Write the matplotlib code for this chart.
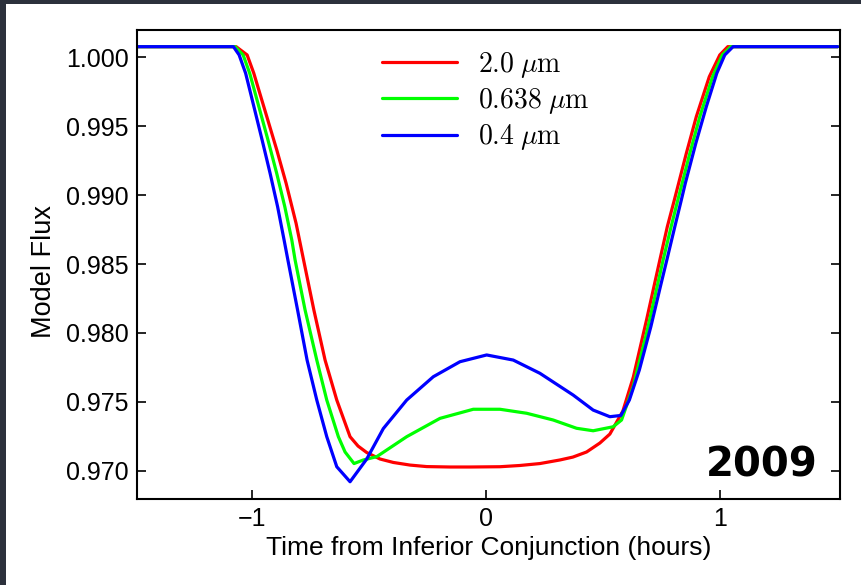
import matplotlib
matplotlib.use("Agg")
import matplotlib.pyplot as plt
from matplotlib.patches import Rectangle

plt.rcParams['mathtext.fontset'] = 'cm'

# ---- data ----
t_red = [-1.50, -1.0670, -1.0200, -0.9915, -0.9787, -0.9360, -0.8934, -0.8537, -0.8111, -0.7791,
         -0.7352, -0.6874, -0.6375, -0.5808, -0.5467, -0.5096, -0.4529, -0.3962, -0.3249, -0.2537,
         -0.1544, -0.0691, 0.0588, 0.1441, 0.2294, 0.3147, 0.3701, 0.4286, 0.4853, 0.5279,
         0.5834, 0.6281, 0.6844, 0.7412, 0.7731, 0.8030, 0.8542, 0.8968, 0.9522, 0.9970,
         1.0311, 1.50]
f_red = [1.00077, 1.00077, 1.00017, 0.99884, 0.99811, 0.99569, 0.99327, 0.99086, 0.98795, 0.98529,
         0.98166, 0.97803, 0.97513, 0.97247, 0.97179, 0.97132, 0.97085, 0.97060, 0.97041, 0.97030,
         0.97027, 0.97027, 0.97029, 0.97038, 0.97052, 0.97078, 0.97099, 0.97136, 0.97201, 0.97266,
         0.97433, 0.97680, 0.98094, 0.98529, 0.98771, 0.98964, 0.99303, 0.99569, 0.99859, 1.00017,
         1.00077, 1.00077]

t_green = [-1.50, -1.0712, -1.0371, -1.0090, -0.9699, -0.9311, -0.8938, -0.8593, -0.8294, -0.8153,
           -0.7727, -0.7228, -0.6802, -0.6307, -0.6021, -0.5638, -0.5241, -0.4670, -0.3390, -0.1970,
           -0.0550, 0.0588, 0.1727, 0.2861, 0.3859, 0.4567, 0.5420, 0.5778, 0.6273, 0.6844,
           0.7552, 0.7893, 0.8179, 0.8691, 0.9117, 0.9663, 1.0077, 1.0439, 1.50]
f_green = [1.00077, 1.00077, 1.00017, 0.99884, 0.99641, 0.99400, 0.99158, 0.98916, 0.98674, 0.98529,
           0.98166, 0.97803, 0.97513, 0.97247, 0.97136, 0.97052, 0.97078, 0.97102, 0.97247, 0.97380,
           0.97446, 0.97446, 0.97417, 0.97368, 0.97308, 0.97290, 0.97319, 0.97368, 0.97610, 0.97997,
           0.98529, 0.98771, 0.98964, 0.99303, 0.99569, 0.99859, 1.00017, 1.00077, 1.00077]

t_blue = [-1.50, -1.0785, -1.0542, -1.0264, -0.9910, -0.9561, -0.9220, -0.8900, -0.8623, -0.8461,
          -0.8047, -0.7642, -0.7228, -0.6802, -0.6375, -0.5808, -0.5096, -0.4388, -0.3390, -0.2256,
          -0.1117, 0.0021, 0.1156, 0.2294, 0.3714, 0.4567, 0.5279, 0.5748, 0.6111, 0.6537,
          0.7028, 0.7433, 0.7710, 0.8051, 0.8328, 0.8499, 0.8947, 0.9394, 0.9842, 1.0183,
          1.0537, 1.50]
f_blue = [1.00077, 1.00077, 1.00017, 0.99884, 0.99641, 0.99400, 0.99158, 0.98916, 0.98674, 0.98529,
          0.98166, 0.97803, 0.97513, 0.97247, 0.97029, 0.96920, 0.97085, 0.97306, 0.97513, 0.97682,
          0.97791, 0.97840, 0.97803, 0.97707, 0.97549, 0.97440, 0.97392, 0.97401, 0.97513, 0.97731,
          0.98045, 0.98335, 0.98529, 0.98771, 0.98964, 0.99086, 0.99376, 0.99641, 0.99884, 1.00017,
          1.00077, 1.00077]

labels = [r'$2.0\;\mu\mathrm{m}$', r'$0.638\;\mu\mathrm{m}$', r'$0.4\;\mu\mathrm{m}$']
colors = ['#ff0000', '#00ff00', '#0000ff']
yticks = [0.970, 0.975, 0.980, 0.985, 0.990, 0.995, 1.000]
xticks = [-1, 0, 1]
year_text = '2009'

# ---- figure ----
fig = plt.figure(figsize=(8.61, 5.85), dpi=100, facecolor='#2c313c')
fig.patches.append(Rectangle((6 / 861, 0), 1, 1 - 4 / 585, transform=fig.transFigure,
                             facecolor='white', edgecolor='none', zorder=-10))
ax = fig.add_axes([137 / 861, 1 - 498.7 / 585, (840 - 137) / 861, (498.7 - 30) / 585])

for t, f, c, lab in zip([t_red, t_green, t_blue], [f_red, f_green, f_blue], colors, labels):
    ax.plot(t, f, color=c, lw=2.3, label=lab, solid_joinstyle='round', solid_capstyle='round')

ax.set_xlim(-1.49, 1.51)
ax.set_ylim(0.96797, 1.00198)
ax.set_xticks(xticks)
ax.set_yticks(yticks)
ax.set_yticklabels([f'{v:.3f}' for v in yticks])

for s in ax.spines.values():
    s.set_linewidth(1.5)
ax.tick_params(axis='both', direction='in', length=6.5, width=1.2, labelsize=18,
               right=True, top=False, pad=6)
for lab in ax.get_xticklabels() + ax.get_yticklabels():
    lab.set_family('Liberation Sans')

ax.set_xlabel('Time from Inferior Conjunction (hours)', family='Liberation Sans', fontsize=19)
ax.xaxis.set_label_coords(0.5, -0.080)
ax.set_ylabel('Model Flux', family='Liberation Sans', fontsize=19.5)
ax.yaxis.set_label_coords(-0.114, 0.484)

leg = ax.legend(loc='upper left', bbox_to_anchor=(0.3485, 0.958), frameon=False,
                fontsize=20, handlelength=2.7, handletextpad=0.75, labelspacing=0.23,
                borderpad=0, borderaxespad=0)

ax.text(0.9687, 0.047, year_text, transform=ax.transAxes, ha='right', va='baseline',
        fontsize=29, fontweight='bold', family='DejaVu Sans')

fig.savefig('out.png', dpi=100, facecolor=fig.get_facecolor())
